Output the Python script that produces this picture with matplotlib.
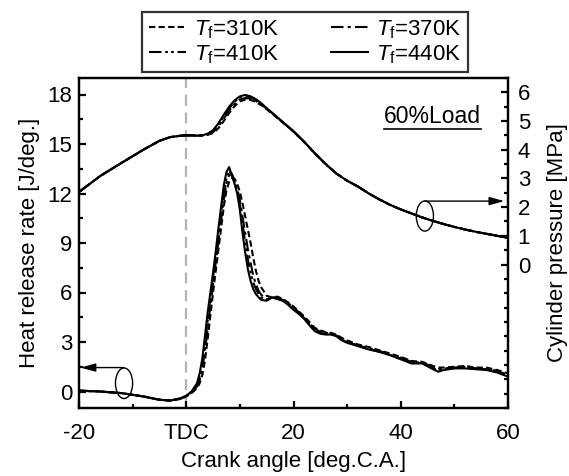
import numpy as np
import matplotlib
matplotlib.use("Agg")
import matplotlib.pyplot as plt
from matplotlib.patches import Ellipse
from matplotlib.lines import Line2D
from matplotlib.ticker import FixedLocator

plt.rcParams['font.family'] = ['Liberation Sans', 'DejaVu Sans']
plt.rcParams['mathtext.fontset'] = 'custom'
plt.rcParams['mathtext.rm'] = 'Liberation Sans'
plt.rcParams['mathtext.it'] = 'Liberation Sans:italic'

# ---------------- data ----------------
labels = ['$T_\\mathrm{f}$=310K', '$T_\\mathrm{f}$=370K', '$T_\\mathrm{f}$=410K', '$T_\\mathrm{f}$=440K']

ca_hrr = [-20, -16, -12, -8, -5, -3, -1, 0, 1, 2, 2.5, 3, 3.5, 4, 4.5, 5, 5.5, 6, 6.5, 7, 7.5, 8, 8.5,
          9, 9.5, 10, 10.5, 11, 11.5, 12, 12.5, 13, 13.5, 14, 15, 16, 17, 18, 19, 20, 21, 22, 23, 24,
          25, 26, 27, 28, 29, 30, 32, 34, 36, 38, 40, 42, 44, 46, 47, 48, 50, 52, 54, 56, 58, 60]

hrr_310 = [0.05, 0.0, -0.1, -0.3, -0.5, -0.55, -0.45, -0.3, -0.1, 0.2, 0.5, 1.0, 1.9, 3.2, 4.6, 6.0, 7.3,
           8.6, 9.9, 11.2, 12.2, 12.7, 12.9, 12.9, 12.6, 12.1, 11.4, 10.6, 9.8, 9.0, 8.1, 7.3, 6.7, 6.3,
           5.8, 5.7, 5.75, 5.6, 5.4, 5.15, 4.85, 4.55, 4.2, 3.85, 3.7, 3.6, 3.55, 3.45, 3.25, 3.1,
           2.85, 2.7, 2.5, 2.3, 2.1, 1.85, 1.8, 1.55, 1.45, 1.45, 1.5, 1.55, 1.45, 1.45, 1.3, 1.1]
hrr_370 = [0.05, 0.0, -0.1, -0.3, -0.5, -0.55, -0.43, -0.28, -0.05, 0.3, 0.7, 1.4, 2.5, 3.8, 5.2, 6.5, 7.8,
           9.1, 10.4, 11.6, 12.6, 13.1, 13.2, 12.8, 12.3, 11.6, 10.6, 9.6, 8.6, 7.8, 7.0, 6.5, 6.1, 5.85,
           5.6, 5.7, 5.7, 5.55, 5.35, 5.1, 4.8, 4.5, 4.1, 3.8, 3.62, 3.55, 3.5, 3.4, 3.2, 3.05,
           2.8, 2.62, 2.45, 2.27, 2.05, 1.8, 1.75, 1.5, 1.35, 1.4, 1.45, 1.5, 1.4, 1.4, 1.25, 1.0]
hrr_410 = [0.05, 0.0, -0.1, -0.3, -0.5, -0.55, -0.42, -0.26, -0.02, 0.4, 0.9, 1.7, 2.9, 4.3, 5.6, 6.9, 8.2,
           9.5, 10.8, 12.0, 12.9, 13.4, 13.1, 12.7, 12.2, 11.4, 10.2, 9.0, 8.0, 7.2, 6.6, 6.2, 5.9, 5.7,
           5.55, 5.7, 5.65, 5.5, 5.3, 5.0, 4.75, 4.45, 4.05, 3.7, 3.55, 3.5, 3.48, 3.38, 3.15, 3.0,
           2.78, 2.58, 2.42, 2.23, 2.0, 1.75, 1.72, 1.42, 1.28, 1.35, 1.42, 1.45, 1.38, 1.35, 1.2, 0.95]
hrr_440 = [0.05, 0.0, -0.1, -0.3, -0.5, -0.55, -0.4, -0.25, 0.0, 0.5, 1.1, 2.0, 3.4, 4.8, 6.0, 7.2, 8.5,
           9.9, 11.2, 12.5, 13.3, 13.6, 13.1, 12.6, 12.0, 11.0, 9.6, 8.4, 7.4, 6.7, 6.2, 5.9, 5.7, 5.55,
           5.5, 5.7, 5.6, 5.5, 5.25, 4.95, 4.7, 4.4, 4.0, 3.65, 3.5, 3.45, 3.45, 3.35, 3.1, 2.95,
           2.75, 2.55, 2.4, 2.2, 1.95, 1.7, 1.7, 1.35, 1.2, 1.3, 1.4, 1.4, 1.35, 1.3, 1.15, 0.9]

ca_p = [-20, -16, -12, -8, -5, -3, -1, 0, 1, 2, 3, 4, 5, 6, 7, 8, 9, 10, 11, 12, 13, 14, 15, 16, 17, 18,
        20, 22, 24, 26, 28, 30, 32, 34, 36, 38, 40, 42, 44, 46, 48, 50, 52, 54, 56, 58, 60]

p_310 = [2.53, 3.09, 3.55, 4.0, 4.31, 4.44, 4.49, 4.5, 4.5, 4.49, 4.5, 4.52, 4.58, 4.75, 5.0, 5.28, 5.52,
         5.68, 5.75, 5.74, 5.66, 5.55, 5.41, 5.26, 5.1, 4.95, 4.63, 4.27, 3.87, 3.5, 3.17, 2.92, 2.72,
         2.48, 2.27, 2.08, 1.92, 1.78, 1.64, 1.52, 1.41, 1.31, 1.22, 1.14, 1.07, 1.0, 0.93]
p_370 = [2.53, 3.09, 3.55, 4.0, 4.31, 4.44, 4.49, 4.5, 4.5, 4.49, 4.5, 4.53, 4.61, 4.81, 5.08, 5.36, 5.6,
         5.75, 5.8, 5.78, 5.7, 5.58, 5.43, 5.27, 5.11, 4.96, 4.63, 4.27, 3.87, 3.5, 3.17, 2.92, 2.72,
         2.48, 2.27, 2.08, 1.92, 1.78, 1.64, 1.52, 1.41, 1.31, 1.22, 1.14, 1.07, 1.0, 0.93]
p_410 = [2.53, 3.09, 3.55, 4.0, 4.31, 4.44, 4.49, 4.5, 4.5, 4.49, 4.5, 4.55, 4.65, 4.87, 5.16, 5.44, 5.67,
         5.82, 5.87, 5.83, 5.74, 5.6, 5.44, 5.28, 5.12, 4.96, 4.64, 4.27, 3.87, 3.5, 3.17, 2.92, 2.72,
         2.48, 2.27, 2.08, 1.92, 1.78, 1.64, 1.52, 1.41, 1.31, 1.22, 1.14, 1.07, 1.0, 0.93]
p_440 = [2.53, 3.09, 3.55, 4.0, 4.31, 4.44, 4.49, 4.5, 4.5, 4.49, 4.5, 4.56, 4.68, 4.92, 5.22, 5.5, 5.72,
         5.86, 5.91, 5.86, 5.76, 5.62, 5.45, 5.29, 5.13, 4.97, 4.65, 4.28, 3.87, 3.5, 3.17, 2.92, 2.72,
         2.48, 2.27, 2.08, 1.92, 1.78, 1.64, 1.52, 1.41, 1.31, 1.22, 1.14, 1.07, 1.0, 0.93]

x_ticks = [-20, 0, 20, 40, 60]
x_ticklabels = ['-20', 'TDC', '20', '40', '60']
hrr_ticks = [0, 3, 6, 9, 12, 15, 18]
p_ticks = [0, 1, 2, 3, 4, 5, 6]

# ---------------- styles ----------------
styles = [dict(dashes=(3, 1.6)),
          dict(dashes=(6, 2, 1.5, 2)),
          dict(dashes=(6, 1.8, 1.3, 1.5, 1.3, 1.8)),
          dict(linestyle='-')]
lw = 1.5

fig = plt.figure(figsize=(5.69, 4.76), dpi=100)
ax = fig.add_axes([79 / 569, 1 - 408 / 476, 429 / 569, 330 / 476])
ax2 = ax.twinx()

ax.axvline(0, color='#b4b4b4', lw=1.6, dashes=(5, 3), zorder=0)

handles = []
for hrr, p, lab, st in zip([hrr_310, hrr_370, hrr_410, hrr_440],
                           [p_310, p_370, p_410, p_440], labels, styles):
    l, = ax.plot(ca_hrr, hrr, color='black', lw=lw, label=lab, **st)
    ax2.plot(ca_p, p, color='black', lw=lw, **st)
    handles.append(l)

ax.set_xlim(-20, 60)
ax.set_ylim(-1, 19)
ax2.set_ylim(-5, 6.5)

ax.set_xticks(x_ticks)
ax.set_xticklabels(x_ticklabels)
ax.xaxis.set_minor_locator(FixedLocator([-10, 10, 30, 50]))
ax.set_yticks(hrr_ticks)
ax.yaxis.set_minor_locator(FixedLocator([1.5, 4.5, 7.5, 10.5, 13.5, 16.5]))
ax2.set_yticks(p_ticks)
ax2.yaxis.set_minor_locator(FixedLocator([v for v in np.arange(-5, 6.51, 0.5) if v not in p_ticks]))

fs = 16
for a in (ax, ax2):
    for sp in a.spines.values():
        sp.set_linewidth(1.6)
    a.tick_params(which='major', direction='in', length=5, width=1.6, labelsize=fs, pad=5)
    a.tick_params(which='minor', direction='in', length=3, width=1.6)
ax.tick_params(axis='y', right=False, which='both')
ax.tick_params(axis='x', top=False, which='both', pad=11)
ax2.tick_params(axis='y', which='major', pad=7)

ax.set_xlabel('Crank angle [deg.C.A.]', fontsize=fs, labelpad=5)
ax.set_ylabel('Heat release rate [J/deg.]', fontsize=fs, labelpad=5)
ax2.set_ylabel('Cylinder pressure [MPa]', fontsize=fs, labelpad=12)

# annotations: ellipses + arrows
ax.add_patch(Ellipse((-11.6, 0.5), 3.2, 1.85, fill=False, lw=1.0, color='black'))
ax.annotate('', xy=(-19.7, 1.45), xytext=(-11.6, 1.45),
            arrowprops=dict(arrowstyle='-|>,head_length=0.9,head_width=0.25', color='black', lw=1.0,
                            shrinkA=0, shrinkB=0))
ax2.add_patch(Ellipse((44.5, 1.69), 3.2, 1.05, fill=False, lw=1.0, color='black'))
ax2.annotate('', xy=(59.3, 2.21), xytext=(44.5, 2.21),
             arrowprops=dict(arrowstyle='-|>,head_length=0.9,head_width=0.25', color='black', lw=1.0,
                             shrinkA=0, shrinkB=0))

t = ax.text(36.9, 16.25, '60%Load', fontsize=16.5, va='baseline', ha='left')

# legend (order gives rows: 310/370 and 410/440)
order = [0, 2, 1, 3]
leg = fig.legend([handles[i] for i in order], [labels[i] for i in order], ncol=2,
                 loc='center', bbox_to_anchor=(0.536, 0.912), fontsize=16,
                 frameon=True, fancybox=False, edgecolor='black', borderpad=0.28,
                 labelspacing=0.12, handlelength=1.7, handletextpad=0.35, columnspacing=2.3,
                 borderaxespad=0)
leg.get_frame().set_linewidth(1.6)

# underline for 60%Load
fig.canvas.draw()
bb = t.get_window_extent()
fig_h = fig.bbox.height
fig.add_artist(Line2D([bb.x0 / fig.bbox.width, bb.x1 / fig.bbox.width],
                      [(bb.y0 - 1) / fig_h, (bb.y0 - 1) / fig_h], color='black', lw=1.2,
                      transform=fig.transFigure))

fig.savefig('out.png', dpi=100)
